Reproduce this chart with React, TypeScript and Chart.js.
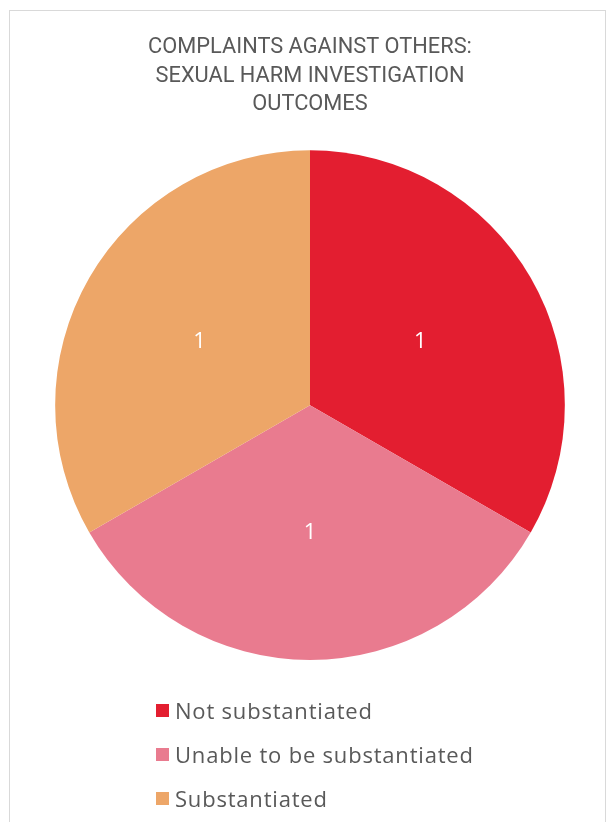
import React, { useEffect, useRef } from "react";
import { Chart, registerables, Plugin } from "chart.js";

Chart.register(...registerables);

const titleLines = ["COMPLAINTS AGAINST OTHERS:", "SEXUAL HARM INVESTIGATION", "OUTCOMES"];
const categories = ["Not substantiated", "Unable to be substantiated", "Substantiated"];
const values = [1, 1, 1];
const colors = ["#E31E30", "#E97B8F", "#EDA668"];

const TEXT_GRAY = "#595959";

const sliceLabels: Plugin<"pie"> = {
  id: "sliceLabels",
  afterDatasetsDraw(chart) {
    const ctx = chart.ctx;
    const meta = chart.getDatasetMeta(0);
    const ds = chart.data.datasets[0];
    ctx.save();
    ctx.fillStyle = "#ffffff";
    ctx.font = "22px 'Open Sans', sans-serif";
    ctx.textAlign = "center";
    ctx.textBaseline = "middle";
    meta.data.forEach((el: any, i: number) => {
      const p = el.getCenterPoint();
      ctx.fillText(String(ds.data[i]), p.x, p.y);
    });
    ctx.restore();
  },
};

function PieChart() {
  const ref = useRef<HTMLCanvasElement | null>(null);
  useEffect(() => {
    if (!ref.current) return;
    const chart = new Chart(ref.current, {
      type: "pie",
      data: {
        labels: categories,
        datasets: [
          {
            data: values,
            backgroundColor: colors,
            borderWidth: 0,
            hoverOffset: 0,
          },
        ],
      },
      options: {
        animation: false,
        responsive: false,
        maintainAspectRatio: false,
        layout: { padding: { left: 6, right: 0, top: 0, bottom: 162 } },
        plugins: {
          legend: { display: false },
          tooltip: { enabled: false },
          title: {
            display: true,
            text: titleLines,
            color: TEXT_GRAY,
            font: { family: "Roboto, 'Liberation Sans', sans-serif", size: 21.8, weight: "normal", lineHeight: 1.32 },
            padding: { top: 33, bottom: 31 },
          },
        },
      },
      plugins: [sliceLabels],
    });
    return () => chart.destroy();
  }, []);
  return <canvas ref={ref} width={614} height={822} style={{ position: "absolute", left: 0, top: 0, width: 614, height: 822 }} />;
}

export default function App() {
  return (
    <div style={{ position: "absolute", left: 0, top: 0, width: 614, height: 822, overflow: "hidden", background: "#fff" }}>
      <div
        style={{
          position: "absolute",
          left: 9,
          top: 10,
          width: 597,
          height: 840,
          border: "1px solid #d9d9d9",
          boxSizing: "border-box",
        }}
      />
      <PieChart />
      <div style={{ position: "absolute", left: 156, top: 0 }}>
        {categories.map((c, i) => (
          <div
            key={c}
            style={{
              position: "absolute",
              left: 0,
              top: 710 + i * 44 - 15,
              height: 30,
              display: "flex",
              alignItems: "center",
              whiteSpace: "nowrap",
              fontFamily: "'Open Sans', sans-serif",
              fontSize: 22,
              letterSpacing: 0.8,
              color: TEXT_GRAY,
            }}
          >
            <span style={{ display: "inline-block", width: 13, height: 13, background: colors[i], marginRight: 6 }} />
            <span>{c}</span>
          </div>
        ))}
      </div>
    </div>
  );
}
